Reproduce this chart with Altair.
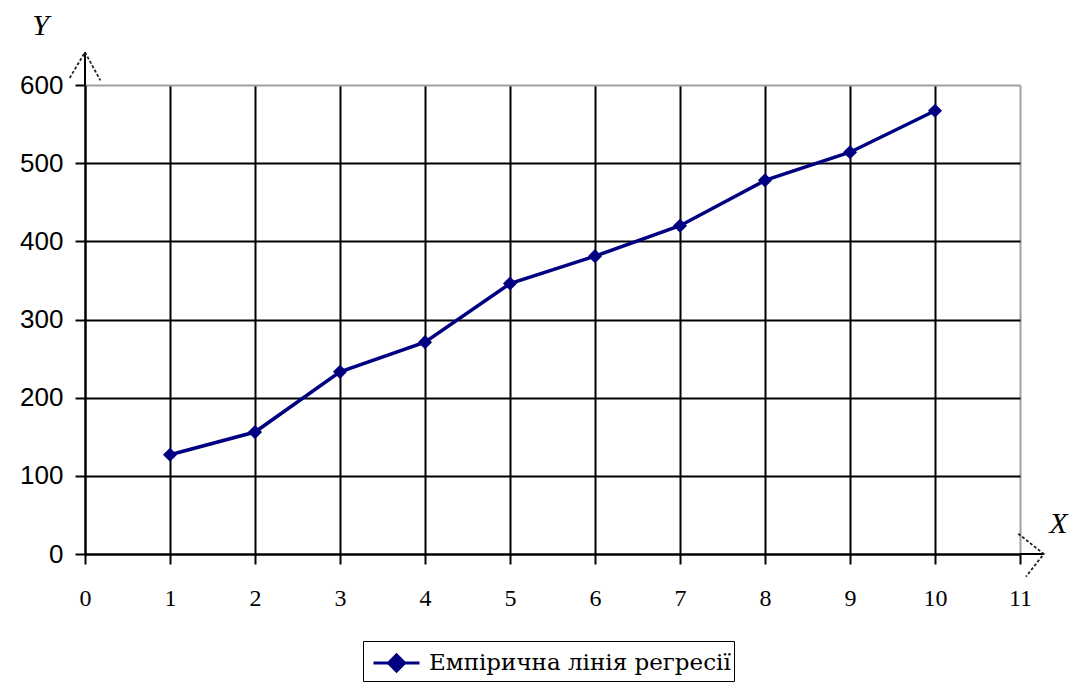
import altair as alt
import pandas as pd

# Data
x_vals = [1, 2, 3, 4, 5, 6, 7, 8, 9, 10]
y_vals = [127, 156, 233, 271, 346, 381, 420, 478, 514, 567]
series_name = "Емпірична лінія регресії"

x_ticks = list(range(0, 12))
y_ticks = [0, 100, 200, 300, 400, 500, 600]

# axis arrow decorations (data units)
axis_ext_x = [0, 0, 11, 11.28]
axis_ext_y = [600, 642, 0, 0]
axis_ext_id = ["y", "y", "x", "x"]

chev_x = [-0.18, 0, 0.18, 10.98, 11.28, 11.07]
chev_y = [609, 642, 606, 26, 0, -29]
chev_id = ["y", "y", "y", "x", "x", "x"]
chev_ord = [0, 1, 2, 0, 1, 2]

df = pd.DataFrame({"x": x_vals, "y": y_vals, "series": [series_name] * len(x_vals)})
ext_df = pd.DataFrame({"x": axis_ext_x, "y": axis_ext_y, "id": axis_ext_id})
chev_df = pd.DataFrame({"x": chev_x, "y": chev_y, "id": chev_id, "o": chev_ord})

NAVY = "#000080"
SERIF = "Liberation Serif, DejaVu Serif, serif"
LEGEND_FONT = "DejaVu Serif"

xscale = alt.Scale(domain=[0, 11], nice=False, zero=False)
yscale = alt.Scale(domain=[0, 600], nice=False, zero=False)

x_axis = alt.Axis(
    values=x_ticks, title="X", grid=True, format="d",
    gridColor=alt.condition("datum.value == 11", alt.value("#a0a0a0"), alt.value("black")),
    gridWidth=2, domainColor="black", domainWidth=2,
    tickColor="black", tickWidth=2, tickSize=10,
    labelFont=SERIF, labelFontSize=24, labelColor="black", labelPadding=22,
    titleFont=SERIF, titleFontStyle="italic", titleFontWeight="normal",
    titleFontSize=30, titleColor="black", titleX=973, titleY=-31,
    titleAlign="center", titleBaseline="middle", labelFlush=False,
)
y_axis = alt.Axis(
    values=y_ticks, title="Y", grid=True, format="d",
    gridColor=alt.condition("datum.value == 600", alt.value("#a0a0a0"), alt.value("black")),
    gridWidth=2, domainColor="black", domainWidth=2,
    tickColor="black", tickWidth=2, tickSize=10,
    labelFont="Liberation Sans", labelFontSize=26, labelColor="black", labelPadding=12,
    titleFont=SERIF, titleFontStyle="italic", titleFontWeight="normal",
    titleFontSize=30, titleColor="black", titleAngle=0, titleX=-45, titleY=-60,
    titleAlign="center", titleBaseline="middle", labelFlush=False,
)

legend_symbol = "M-0.66,0L1.97,0M0.2,0L0.66,-0.46L1.12,0L0.66,0.46Z"

legend_kwargs = dict(
    title=None, orient="none", legendX=278, legendY=556,
    strokeColor="black", fillColor="white", padding=3,
    labelFont=LEGEND_FONT, labelFontSize=23, labelColor="black",
    labelLimit=0, symbolType=legend_symbol, symbolSize=1225, symbolStrokeWidth=3,
    symbolFillColor=NAVY, symbolStrokeColor=NAVY, labelOffset=25,
)


def build(use_encode):
    lk = dict(legend_kwargs)
    if use_encode:
        lk["encode"] = {
            "symbols": {
                "update": {
                    "stroke": {"value": NAVY},
                    "fill": {"value": NAVY},
                    "strokeWidth": {"value": 3},
                    "opacity": {"value": 1},
                }
            },
        }
    line = alt.Chart(df).mark_line(strokeWidth=3.5).encode(
        x=alt.X("x:Q", scale=xscale, axis=x_axis),
        y=alt.Y("y:Q", scale=yscale, axis=y_axis),
        color=alt.Color(
            "series:N",
            scale=alt.Scale(domain=[series_name], range=[NAVY]),
            legend=alt.Legend(**lk),
        ),
    )

    points = alt.Chart(df).mark_point(
        shape="diamond", filled=True, size=200, color=NAVY, opacity=1
    ).encode(
        x=alt.X("x:Q", scale=xscale),
        y=alt.Y("y:Q", scale=yscale),
    )

    ext = alt.Chart(ext_df).mark_line(color="black", strokeWidth=2).encode(
        x=alt.X("x:Q", scale=xscale),
        y=alt.Y("y:Q", scale=yscale),
        detail="id:N",
    )

    chev = alt.Chart(chev_df).mark_line(color="#222222", strokeWidth=1.8, strokeDash=[3, 2]).encode(
        x=alt.X("x:Q", scale=xscale),
        y=alt.Y("y:Q", scale=yscale),
        detail="id:N",
        order="o:Q",
    )

    c = alt.layer(ext, chev, line, points).properties(
        width=935, height=469,
        autosize=alt.AutoSizeParams(type="none"),
        padding={"left": 77, "top": 77, "right": 50, "bottom": 128},
    ).configure_view(stroke="#a0a0a0", strokeWidth=1.5).configure(background="white")
    c.to_dict()
    return c


try:
    chart = build(True)
except Exception:
    chart = build(False)

chart.save("out.html", embed_options={"renderer": "svg", "actions": False})
